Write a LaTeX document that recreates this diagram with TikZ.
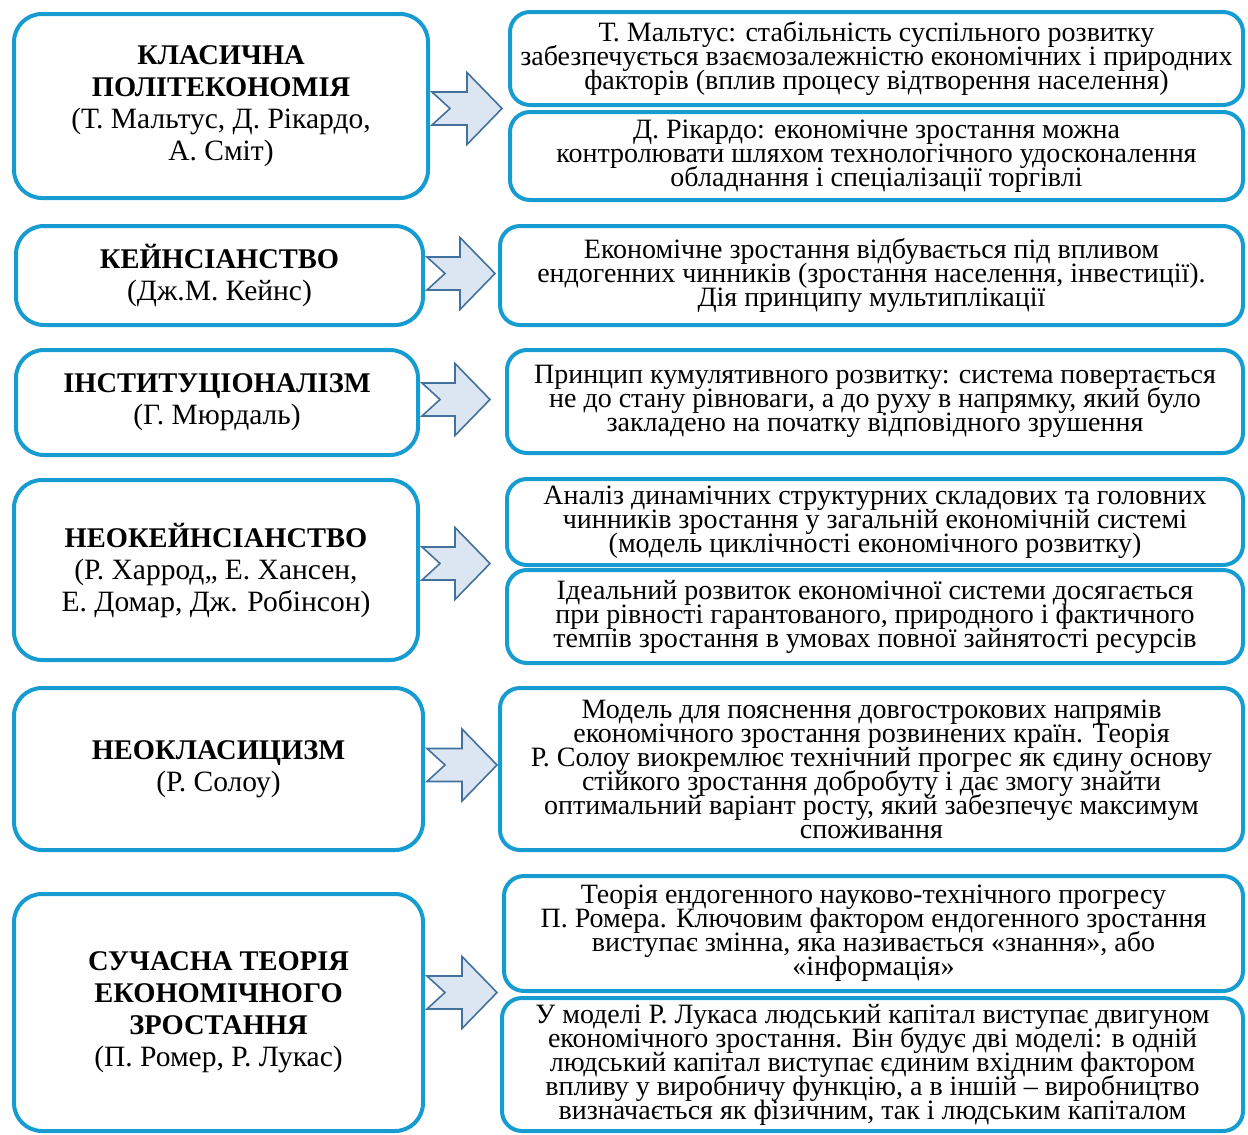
\documentclass[tikz,border=0pt]{standalone}
\usepackage{fontspec}
\setmainfont{Liberation Serif}
\usepackage{tikz}
\usetikzlibrary{calc}
\definecolor{boxblue}{RGB}{22,156,208}
\definecolor{arrowfill}{RGB}{220,230,242}
\definecolor{arrowline}{RGB}{65,113,156}
\newcommand{\head}[1]{{\fontsize{28.5}{32}\selectfont\bfseries #1}}
\newcommand{\tightlines}{\lineskiplimit=-20pt\relax}
\newcommand{\flowarrow}[2]{%
  \draw[flowarr] let \p1 = (#1), \p2 = (#2) in
  (\x1+2pt, \y2+16.5pt) -- (\x2-35pt, \y2+16.5pt) -- (\x2-35pt, \y2+36pt) -- (\x2, \y2)
  -- (\x2-35pt, \y2-36pt) -- (\x2-35pt, \y2-16.5pt) -- (\x1+2pt, \y2-16.5pt) -- (\x1+20pt, \y2) -- cycle;}

\begin{document}
\begin{tikzpicture}[x = 1pt, y = -1pt,
  school/.style = {draw = boxblue, line width = 4pt, rounded corners = 28pt, align = center, inner sep = 0pt,
    font = \fontsize{29.5}{32}\selectfont},
  idea/.style = {draw = boxblue, line width = 4pt, rounded corners = 20pt, align = center, inner sep = 0pt,
    font = \fontsize{28}{24}\selectfont\tightlines},
  flowarr/.style = {draw = arrowline, fill = arrowfill, line width = 1.6pt, line join = miter}]
  \useasboundingbox (0, 0) rectangle (1248, 1135);

  \node[school, minimum width = 414pt, minimum height = 184pt] (classic) at (221, 106)
    {\head{КЛАСИЧНА}\\ \head{ПОЛІТЕКОНОМІЯ}\\ (Т. Мальтус, Д. Рікардо,\\ А. Сміт)};
  \node[school, minimum width = 407pt, minimum height = 99pt] (keynes) at (219.5, 275.5)
    {\head{КЕЙНСІАНСТВО}\\ (Дж.М. Кейнс)};
  \node[school, minimum width = 402pt, minimum height = 105pt] (inst) at (217, 402.5)
    {\head{ІНСТИТУЦІОНАЛІЗМ}\\ (Г. Мюрдаль)};
  \node[school, minimum width = 404pt, minimum height = 180pt] (neokeynes) at (216, 570)
    {\head{НЕОКЕЙНСІАНСТВО}\\ (Р. Харрод,, Е. Хансен,\\ Е. Домар, Дж. Робінсон)};
  \node[school, minimum width = 409pt, minimum height = 162pt] (neoclass) at (218.5, 769)
    {\head{НЕОКЛАСИЦИЗМ}\\ (Р. Солоу)};
  \node[school, minimum width = 409pt, minimum height = 237pt] (modern) at (218.5, 1012.5)
    {\head{СУЧАСНА ТЕОРІЯ}\\ \head{ЕКОНОМІЧНОГО}\\ \head{ЗРОСТАННЯ}\\ (П. Ромер, Р. Лукас)};

  \node[idea, minimum width = 733pt, minimum height = 93pt] (malthus) at (876.5, 58.5)
    {Т. Мальтус: стабільність суспільного розвитку\\ забезпечується взаємозалежністю економічних і природних\\ факторів (вплив процесу відтворення населення)};
  \node[idea, minimum width = 733pt, minimum height = 88pt] (ricardo) at (876.5, 156)
    {Д. Рікардо: економічне зростання можна\\ контролювати шляхом технологічного удосконалення\\ обладнання і спеціалізації торгівлі};
  \node[idea, minimum width = 743pt, minimum height = 99pt] (keynesidea) at (871.5, 275.5)
    {Економічне зростання відбувається під впливом\\ ендогенних чинників (зростання населення, інвестиції).\\ Дія принципу мультиплікації};
  \node[idea, minimum width = 736pt, minimum height = 103pt] (instidea) at (875, 401.5)
    {Принцип кумулятивного розвитку: система повертається\\ не до стану рівноваги, а до руху в напрямку, який було\\ закладено на початку відповідного зрушення};
  \node[idea, minimum width = 736pt, minimum height = 86pt] (dynamics) at (875, 522)
    {Аналіз динамічних структурних складових та головних\\ чинників зростання у загальній економічній системі\\ (модель циклічності економічного розвитку)};
  \node[idea, minimum width = 736pt, minimum height = 93pt] (ideal) at (875, 616.5)
    {Ідеальний розвиток економічної системи досягається\\ при рівності гарантованого, природного і фактичного\\ темпів зростання в умовах повної зайнятості ресурсів};
  \node[idea, minimum width = 743pt, minimum height = 162pt] (solow) at (871.5, 769)
    {Модель для пояснення довгострокових напрямів\\ економічного зростання розвинених країн. Теорія\\ Р. Солоу виокремлює технічний прогрес як єдину основу\\ стійкого зростання добробуту і дає змогу знайти\\ оптимальний варіант росту, який забезпечує максимум\\ споживання};
  \node[idea, minimum width = 739pt, minimum height = 115pt] (romer) at (873.5, 933.5)
    {Теорія ендогенного науково-технічного прогресу\\ П. Ромера. Ключовим фактором ендогенного зростання\\ виступає змінна, яка називається «знання», або\\ «інформація»};
  \node[idea, minimum width = 741pt, minimum height = 133pt] (lucas) at (872.5, 1064.5)
    {У моделі Р. Лукаса людський капітал виступає двигуном\\ економічного зростання. Він будує дві моделі: в одній\\ людський капітал виступає єдиним вхідним фактором\\ впливу у виробничу функцію, а в іншій – виробництво\\ визначається як фізичним, так і людським капіталом};

  % arrow tips
  \coordinate (tip1) at ($($(malthus.south west)!0.5!(ricardo.north west)$) + (-6, 0)$);
  \coordinate (tip2) at ($(keynesidea.west) + (-3, -2)$);
  \coordinate (tip3) at ($(instidea.west) + (-15, -2)$);
  \coordinate (tip4) at ($($(dynamics.south west)!0.5!(ideal.north west)$) + (-15, -4)$);
  \coordinate (tip5) at ($(solow.west) + (-1, -4)$);
  \coordinate (tip6) at ($($(romer.south west)!0.5!(lucas.north west)$) + (-4, -2)$);

  \flowarrow{classic.east}{tip1}
  \flowarrow{keynes.east}{tip2}
  \flowarrow{inst.east}{tip3}
  \flowarrow{neokeynes.east}{tip4}
  \flowarrow{neoclass.east}{tip5}
  \flowarrow{modern.east}{tip6}
\end{tikzpicture}
\end{document}
